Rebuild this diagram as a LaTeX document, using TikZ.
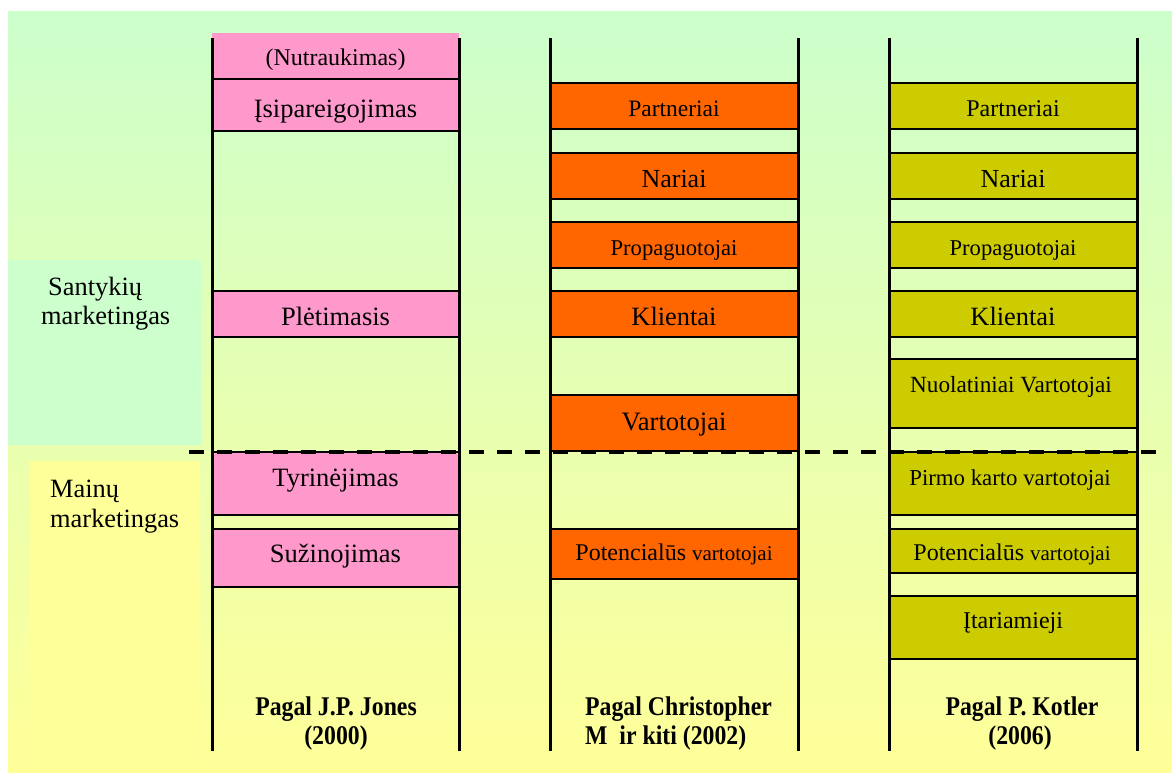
\documentclass[tikz,border=0pt]{standalone}
\usepackage{fontspec}
\setmainfont{Liberation Serif}
\newfontfamily\labfont[FakeStretch=0.88]{Liberation Serif}
\newcommand\fsz[1]{\fontsize{#1}{#1}\selectfont}
\definecolor{bgtop}{HTML}{CCFFCC}
\definecolor{bgbot}{HTML}{FFFF99}
\definecolor{relfill}{HTML}{CCFFCC}
\definecolor{exfill}{HTML}{FFFF99}
\definecolor{pinkc}{HTML}{FF99CC}
\definecolor{orangec}{HTML}{FF6600}
\definecolor{olivec}{HTML}{CCCC00}
\begin{document}
\begin{tikzpicture}[x=1pt,y=-1pt,
  rail/.style={line width=3pt},
  cellbox/.style={draw=black,line width=1.3pt},
  pinkcell/.style={cellbox,fill=pinkc},
  orangecell/.style={cellbox,fill=orangec},
  olivecell/.style={cellbox,fill=olivec},
  txt/.style={anchor=base,inner sep=0pt,text=black},
  sidetxt/.style={anchor=base west,inner sep=0pt,font=\fsz{26.4}},
  foot/.style={anchor=base,inner sep=0pt,font=\labfont\bfseries\fsz{27}},
  divider/.style={line width=3.5pt,dash pattern=on 15pt off 13pt}]
\useasboundingbox (0,0) rectangle (1172,772);
% background
\shade[top color=bgtop,bottom color=bgbot] (8,11) rectangle (1172,772);
\fill[relfill] (8,260) rectangle (201,445);
\fill[exfill] (30,461) rectangle (200,772);

% side labels
\node[sidetxt] (rel1) at (48,295) {Santykių};
\node[sidetxt] (rel2) at (41,324) {marketingas};
\node[sidetxt] (ex1) at (50,497) {Mainų};
\node[sidetxt] (ex2) at (50,527) {marketingas};

% column 1: J.P. Jones
\fill[pinkc] (212,33) rectangle (459,79);
\filldraw[pinkcell] (212,79) rectangle (459,131);
\filldraw[pinkcell] (212,291) rectangle (459,337);
\filldraw[pinkcell] (212,452) rectangle (459,515);
\filldraw[pinkcell] (212,529) rectangle (459,587);
\node[txt,font=\fsz{24}] (a1) at (335.5,65) {(Nutraukimas)};
\node[txt,font=\fsz{26.5}] (a2) at (335.5,117) {Įsipareigojimas};
\node[txt,font=\fsz{26.5}] (a3) at (335.5,325) {Plėtimasis};
\node[txt,font=\fsz{26.5}] (a4) at (335.5,486) {Tyrinėjimas};
\node[txt,font=\fsz{26.5}] (a5) at (335.5,562.5) {Sužinojimas};

% column 2: Christopher M ir kiti
\filldraw[orangecell] (550,83) rectangle (798,129);
\filldraw[orangecell] (550,153) rectangle (798,199);
\filldraw[orangecell] (550,222) rectangle (798,268);
\filldraw[orangecell] (550,291) rectangle (798,337);
\filldraw[orangecell] (550,395) rectangle (798,451);
\filldraw[orangecell] (550,529) rectangle (798,579);
\node[txt,font=\fsz{23.5}] (b1) at (674,116.5) {Partneriai};
\node[txt,font=\fsz{26}] (b2) at (674,187.5) {Nariai};
\node[txt,font=\fsz{22.6}] (b3) at (674,255) {Propaguotojai};
\node[txt,font=\fsz{26.4}] (b4) at (674,325) {Klientai};
\node[txt,font=\fsz{26.6}] (b5) at (674,430) {Vartotojai};
\node[txt] (b6) at (674,560.5) {\fsz{24}Potencialūs {\fsz{21}vartotojai}};

% column 3: P. Kotler
\filldraw[olivecell] (889.5,83) rectangle (1137,129);
\filldraw[olivecell] (889.5,153) rectangle (1137,199);
\filldraw[olivecell] (889.5,222) rectangle (1137,268);
\filldraw[olivecell] (889.5,291) rectangle (1137,337);
\filldraw[olivecell] (889.5,359) rectangle (1137,428);
\filldraw[olivecell] (889.5,452) rectangle (1137,515);
\filldraw[olivecell] (889.5,529) rectangle (1137,573);
\filldraw[olivecell] (889.5,596) rectangle (1137,659);
\node[txt,font=\fsz{24}] (c1) at (1013,116.5) {Partneriai};
\node[txt,font=\fsz{26}] (c2) at (1013,187.5) {Nariai};
\node[txt,font=\fsz{22.6}] (c3) at (1013,255) {Propaguotojai};
\node[txt,font=\fsz{26.4}] (c4) at (1013,325) {Klientai};
\node[txt,font=\fsz{23.2}] (c5) at (1011,392.5) {Nuolatiniai Vartotojai};
\node[txt,font=\fsz{22.8}] (c6) at (1010,485) {Pirmo karto vartotojai};
\node[txt] (c7) at (1012,560.5) {\fsz{24}Potencialūs {\fsz{21}vartotojai}};
\node[txt,font=\fsz{24}] (c8) at (1013,628.5) {Įtariamieji};

% rails
\draw[rail] (212,38) -- (212,751);
\draw[rail] (459,38) -- (459,751);
\draw[rail] (550,38) -- (550,751);
\draw[rail] (798,38) -- (798,751);
\draw[rail] (889.5,38) -- (889.5,751);
\draw[rail] (1137,38) -- (1137,751);

% boundary between relationship and exchange marketing
\draw[divider] (189,452) -- (1160,452);

% sources
\node[foot] (s1a) at (336,715) {Pagal J.P. Jones};
\node[foot] (s1b) at (336,744) {(2000)};
\node[foot,anchor=base west] (s2a) at (585,715) {Pagal Christopher};
\node[foot,anchor=base west] (s2b) at (585,744) {M\ \ ir kiti (2002)};
\node[foot] (s3a) at (1022,715) {Pagal P. Kotler};
\node[foot] (s3b) at (1020,744) {(2006)};
\end{tikzpicture}
\end{document}
